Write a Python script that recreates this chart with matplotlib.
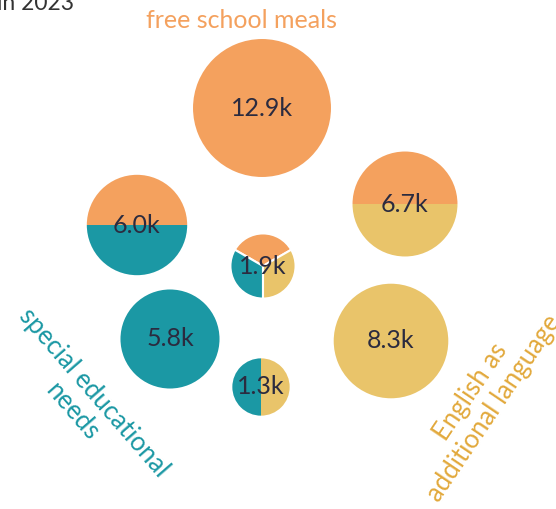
import matplotlib.pyplot as plt
from matplotlib.patches import Wedge
import numpy as np

plt.rcParams['font.family'] = ['Lato', 'DejaVu Sans']

# pupil counts (thousands) for each overlap of the three groups
groups = ['free school meals', 'FSM + EAL', 'FSM + SEN', 'all three',
          'SEN', 'EAL', 'SEN + EAL']
values = [12.9, 6.7, 6.0, 1.9, 5.8, 8.3, 1.3]
members = [['fsm'], ['fsm', 'eal'], ['fsm', 'sen'], ['fsm', 'sen', 'eal'],
           ['sen'], ['eal'], ['sen', 'eal']]

colors = {'fsm': '#F4A15E', 'sen': '#1B98A4', 'eal': '#E9C46A'}
text_col = {'fsm': '#F4A15E', 'sen': '#1B98A4', 'eal': '#E2A93C'}

# layout (pixels from top-left)
W, H = 556, 509
centers = [(262, 108), (405, 204), (137, 225), (263, 266),
           (170, 339), (391, 341), (261, 387)]
# starting angle of the first colour for split circles
start = {1: 0, 2: 0, 3: 30, 6: 90}


def radius(v):
    return 9.9 + 16.45 * np.sqrt(v)


fig = plt.figure(figsize=(W / 100, H / 100), dpi=100)
ax = fig.add_axes([0, 0, 1, 1])
ax.set_xlim(0, W)
ax.set_ylim(0, H)
ax.set_aspect('equal')
ax.axis('off')

for i, (v, mem) in enumerate(zip(values, members)):
    cx, cy = centers[i]
    cy = H - cy
    r = radius(v)
    n = len(mem)
    a0 = start.get(i, 0)
    step = 360 / n
    for j, m in enumerate(mem):
        ec = 'white' if n == 3 else 'none'
        ax.add_patch(Wedge((cx, cy), r, a0 + j * step, a0 + (j + 1) * step,
                           facecolor=colors[m], edgecolor=ec,
                           linewidth=1.5 if n == 3 else 0))
    ax.text(cx, cy, f'{v:.1f}k', ha='center', va='center',
            fontsize=18, color='#2B2B3F')

ax.text(242, H - 20, 'free school meals', ha='center', va='center',
        fontsize=18, color=text_col['fsm'])
ax.text(83, H - 402, 'special educational\nneeds', ha='center', va='center',
        fontsize=18.5, color=text_col['sen'], rotation=-49, linespacing=1.2,
        rotation_mode='anchor')
ax.text(482, H - 400, 'English as\nadditional language', ha='center',
        va='center', fontsize=18.5, color=text_col['eal'], rotation=56,
        linespacing=1.15, rotation_mode='anchor')
ax.text(74, H - 10, 'in 2023', ha='right', va='baseline',
        fontsize=16.5, color='#333333')

fig.savefig('out.png', dpi=100)
